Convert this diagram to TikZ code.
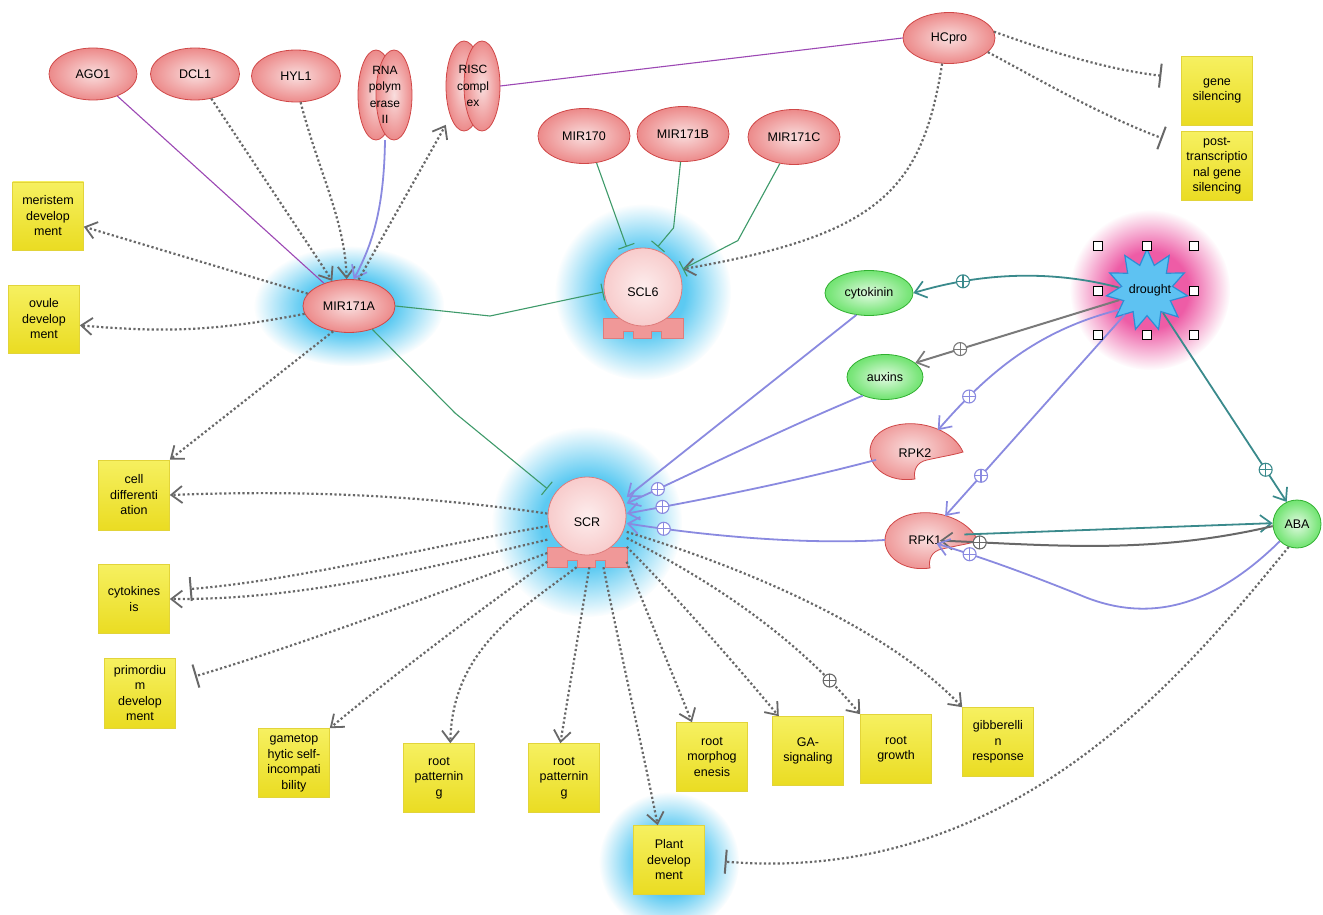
\documentclass[tikz,border=0pt]{standalone}
\usepackage{fontspec}
\setmainfont{Liberation Sans}
\usetikzlibrary{arrows.meta,shapes.geometric,fadings}

\definecolor{redC}{HTML}{F9DEDE}
\definecolor{redM}{HTML}{EE9494}
\definecolor{redE}{HTML}{DE5252}
\definecolor{redB}{HTML}{D04848}
\definecolor{grC}{HTML}{E2FAE2}
\definecolor{grM}{HTML}{7CE67C}
\definecolor{grE}{HTML}{3CD23C}
\definecolor{grB}{HTML}{30B030}
\definecolor{pkC}{HTML}{FDEDED}
\definecolor{pkE}{HTML}{F2AAAA}
\definecolor{baseF}{HTML}{F09898}
\definecolor{baseB}{HTML}{DE7C7C}
\definecolor{yT}{HTML}{F6F060}
\definecolor{yB}{HTML}{EADC22}
\definecolor{yD}{HTML}{E2D43A}
\definecolor{dgray}{HTML}{686868}
\definecolor{lav}{HTML}{8A8AE0}
\definecolor{tealc}{HTML}{3A8A8C}
\definecolor{grnl}{HTML}{3E9A6A}
\definecolor{purp}{HTML}{9C48B4}
\definecolor{sgray}{HTML}{7A7A7A}
\definecolor{glowblue}{HTML}{5CCAF2}
\definecolor{glowpink}{HTML}{EE5CA6}
\definecolor{starF}{HTML}{5EC2F2}
\definecolor{starB}{HTML}{2C8ED6}

\pgfdeclareradialshading{redsh}{\pgfpoint{0bp}{0bp}}{color(0bp)=(redC); color(22bp)=(redM); color(42bp)=(redE); color(50bp)=(redE)}
\pgfdeclareradialshading{grsh}{\pgfpoint{0bp}{0bp}}{color(0bp)=(grC); color(22bp)=(grM); color(42bp)=(grE); color(50bp)=(grE)}
\pgfdeclareradialshading{pksh}{\pgfpoint{0bp}{0bp}}{color(0bp)=(pkC); color(50bp)=(pkE)}
\pgfdeclareradialshading{glowsh}{\pgfpoint{0bp}{0bp}}{color(0bp)=(white); color(12bp)=(white); color(25bp)=(black); color(50bp)=(black)}
\pgfdeclarefading{glowf}{\pgfuseshading{glowsh}}

\tikzset{
 pics/gene/.style={code={
   \filldraw[fill=baseF, draw=baseB, line width=0.8pt] (-40,31) -- (40,31) -- (40,51) -- (18,51) -- (18,44) -- (8,44) -- (8,51) -- (-10,51) -- (-10,44) -- (-20,44) -- (-20,51) -- (-40,51) -- cycle;
   \shadedraw[shading=pksh, draw=baseB, line width=0.8pt] (0,0) circle (39);
 }},
 pics/kinase/.style={code={
   \shadedraw[shading=redsh, draw=redB, line width=0.8pt] (58,0) .. controls (45,-30) and (-10,-38) .. (-30,-15) .. controls (-45,5) and (-25,32) .. (10,27) .. controls (8,18) and (12,10) .. (22,8) .. controls (35,5) and (48,3) .. (58,0) -- cycle;
 }},
 pics/lobe/.style={code={
   \shadedraw[shading=redsh, draw=redB, line width=0.8pt] (-9,0) ellipse (18 and 45);
   \shadedraw[shading=redsh, draw=redB, line width=0.8pt] (9,0) ellipse (18 and 45);
 }},
}

\begin{document}
\begin{tikzpicture}[x=1pt,y=-1pt,
  font=\fontsize{12.5}{15.5}\selectfont,
  redell/.style={ellipse, shade, shading=redsh, draw=redB, line width=0.8pt, inner sep=0pt, minimum width=90pt, minimum height=53pt},
  greell/.style={ellipse, shade, shading=grsh, draw=grB, line width=0.8pt, inner sep=0pt, minimum width=88pt, minimum height=45pt},
  lobetxt/.style={rectangle, inner sep=0pt, minimum width=54pt, minimum height=90pt, align=center, font=\fontsize{12}{16.5}\selectfont},
  ybox/.style={rectangle, top color=yT, bottom color=yB, draw=yD, line width=0.6pt, minimum width=71pt, minimum height=69pt, inner sep=0pt, align=center},
  genetxt/.style={rectangle, inner sep=0pt, minimum width=79pt, minimum height=90pt},
  kintxt/.style={ellipse, inner sep=0pt, minimum width=80pt, minimum height=55pt},
  handle/.style={rectangle, draw=black, fill=white, line width=0.8pt, minimum size=9pt, inner sep=0pt},
  plusn/.style={circle, solid, draw=#1, fill=white, line width=1.1pt, inner sep=0pt, minimum size=13pt,
     path picture={
       \draw[#1, solid, -, shorten >=0pt, shorten <=0pt, line width=1.1pt] (path picture bounding box.north) -- (path picture bounding box.south);
       \draw[#1, solid, -, shorten >=0pt, shorten <=0pt, line width=1.1pt] (path picture bounding box.west) -- (path picture bounding box.east);}},
  dotl/.style={draw=dgray, line width=2.2pt, dash pattern=on 2.2pt off 2.4pt},
  oarr/.style={-{Straight Barb[length=11pt,width=17pt,line width=1.8pt]}},
  tbar/.style={-{Bar[width=24pt,line width=2pt]}, shorten >=20pt},
  grnT/.style={draw=grnl, line width=1.1pt, -{Bar[width=17pt,line width=1.1pt]}},
  lavA/.style={draw=lav, line width=1.8pt, -{Straight Barb[length=11pt,width=17pt,line width=1.7pt]}},
  tealA/.style={draw=tealc, line width=1.8pt, -{Straight Barb[length=11pt,width=17pt,line width=1.7pt]}},
  grayA/.style={draw=sgray, line width=2pt, -{Straight Barb[length=11pt,width=17pt,line width=1.7pt]}},
  purl/.style={draw=purp, line width=1.1pt}
]
\useasboundingbox (0,0) rectangle (1323,915);
\fill[white] (0,0) rectangle (1323,915);

% glows
\fill[glowblue, path fading=glowf] (349,306) ellipse (95 and 60);
\fill[glowblue, path fading=glowf] (643,292) circle (88);
\fill[glowblue, path fading=glowf] (587,522) circle (95);
\fill[glowblue, path fading=glowf] (669,862) circle (70);
\fill[glowpink, path fading=glowf] (1150,290) circle (80);

% shapes
\pic at (385,95) {lobe};
\pic at (473,86) {lobe};
\pic at (643,287) {gene};
\pic at (587,516) {gene};
\pic at (905,452) {kinase};
\pic at (920,541) {kinase};

% nodes
\node[redell, minimum width=88pt, minimum height=52pt] (ago1) at (93,74) {AGO1};
\node[redell, minimum width=89pt, minimum height=52pt] (dcl1) at (195,74) {DCL1};
\node[redell, minimum width=89pt, minimum height=52pt] (hyl1) at (296,76) {HYL1};
\node[lobetxt] (rna) at (385,95) {RNA\\polym\\erase\\II};
\node[lobetxt] (risc) at (473,86) {RISC\\compl\\ex};
\node[redell, minimum width=92pt, minimum height=51pt] (hcpro) at (949,38) {HCpro};
\node[ybox] (gs) at (1217,91) {gene\\silencing};
\node[ybox] (ptgs) at (1217,166) {post-\\transcriptio\\nal gene\\silencing};
\node[redell, minimum width=92pt, minimum height=55pt] (m170) at (584,136) {MIR170};
\node[redell, minimum width=92pt, minimum height=55pt] (m171b) at (683,134) {MIR171B};
\node[redell, minimum width=92pt, minimum height=55pt] (m171c) at (794,137) {MIR171C};
\node[genetxt] (scl6) at (643,292) {SCL6};
\node[redell, minimum width=92pt, minimum height=53pt] (m171a) at (349,306) {MIR171A};
\node[ybox, minimum height=68pt] (mer) at (48,216) {meristem\\develop\\ment};
\node[ybox, minimum height=68pt] (ovu) at (44,319) {ovule\\develop\\ment};
\node[ybox, minimum height=70pt] (cdiff) at (134,495) {cell\\differenti\\ation};
\node[ybox] (cytk) at (134,599) {cytokines\\is};
\node[ybox, minimum height=70pt] (prim) at (140,693) {primordiu\\m\\develop\\ment};
\node[ybox] (game) at (294,763) {gametop\\hytic self-\\incompati\\bility};
\node[ybox] (rp1) at (439,778) {root\\patternin\\g};
\node[ybox] (rp2) at (564,778) {root\\patternin\\g};
\node[ybox] (plant) at (669,860) {Plant\\develop\\ment};
\node[ybox] (rmorph) at (712,757) {root\\morphog\\enesis};
\node[ybox] (ga) at (808,751) {GA-\\signaling};
\node[ybox] (rgrow) at (896,749) {root\\growth};
\node[ybox] (gib) at (998,742) {gibberelli\\n\\response};
\node[genetxt] (scr) at (587,522) {SCR};
\node[greell, minimum width=88pt, minimum height=45pt] (cytokinin) at (869,293) {cytokinin};
\node[greell, minimum width=76pt, minimum height=45pt] (auxins) at (885,377) {auxins};
\node[kintxt] (rpk2) at (915,453) {RPK2};
\node[kintxt] (rpk1) at (925,540) {RPK1};
\node[greell, circle, minimum size=48pt] (aba) at (1297,524) {ABA};
\node[star, star points=11, star point ratio=1.6, minimum size=82pt, inner sep=0pt, fill=starF, draw=starB, line width=1.2pt] (drought) at (1147,290) {};
\node (droughtlbl) at (1150,290) {drought};

% MIR171A region
\draw[purl] (ago1) -- (m171a);
\draw[dotl,oarr] (dcl1) -- (m171a);
\draw[dotl,oarr] (hyl1.-80) .. controls (318,170) and (345,220) .. (m171a.95);
\draw[lavA] (rna.south) .. controls (384,210) and (372,245) .. (m171a.80);
\draw[dotl,oarr] (m171a.70) -- (risc.-125);
\draw[purl] (risc.east) -- (hcpro.west);
\draw[dotl,oarr] (m171a) -- (mer);
\draw[dotl,oarr] (m171a.190) to[bend left=8] (ovu.-10);
\draw[dotl,oarr] (m171a.-122) -- (cdiff.north east);

% HCpro
\draw[dotl,tbar] (hcpro.8) .. controls (1050,52) and (1110,70) .. (gs.160);
\draw[dotl,tbar] (hcpro.-20) .. controls (1040,80) and (1100,115) .. (ptgs.150);
\draw[dotl,oarr] (hcpro.-105) .. controls (922,190) and (880,235) .. (scl6.30);

% SCL6 inhibitors
\draw[grnT] (m170.-65) -- (scl6.110);
\draw[grnT] (m171b.-95) -- ++(-7,66) -- (scl6.72);
\draw[grnT] (m171c.-118) -- ++(-42,77) -- (scl6.30);
\draw[grnT] (m171a.east) -- (490,316) -- (scl6.west);
\draw[grnT] (m171a.-45) -- (455,413) -- (scr.140);

% SCR outgoing
\draw[dotl,oarr] (scr.168) .. controls (420,495) and (300,490) .. (cdiff.east);
\draw[dotl,tbar] (scr.-174) .. controls (420,548) and (300,580) .. (cytk.13);
\draw[dotl,oarr] (scr.-156) .. controls (420,570) and (300,600) .. (cytk.east);
\draw[dotl,tbar] (scr.-142) .. controls (420,600) and (300,645) .. (prim.17);
\draw[dotl,oarr] (scr.-135) .. controls (480,610) and (400,670) .. (game.north east);
\draw[dotl,oarr] (scr.-103) .. controls (520,610) and (452,650) .. (rp1.72);
\draw[dotl,oarr] (scr.-87) -- (rp2.96);
\draw[dotl,oarr] (scr.-70) .. controls (620,650) and (645,760) .. (plant.108);
\draw[dotl,oarr] (scr.-45) -- (rmorph.120);
\draw[dotl,oarr] (scr.-32) .. controls (680,600) and (740,670) .. (ga.130);
\draw[dotl,oarr] (scr.-22) .. controls (700,575) and (790,630) .. (rgrow.north west) node[plusn=dgray, pos=0.86] (p1) {};
\draw[dotl,oarr] (scr.-14) .. controls (720,560) and (880,620) .. (gib.north west);
\draw[dotl,tbar] (aba.-110) .. controls (1180,680) and (1010,885) .. (plant.east);

% into SCR
\draw[lavA] (cytokinin.-120) -- (scr.32);
\draw[lavA] (auxins.-140) .. controls (780,430) and (700,470) .. (scr.25) node[plusn=lav, pos=0.86] (p2) {};
\draw[lavA] (rpk2.190) .. controls (780,485) and (700,500) .. (scr.12) node[plusn=lav, pos=0.84] (p3) {};
\draw[lavA] (rpk1.180) .. controls (800,545) and (700,535) .. (scr.-2) node[plusn=lav, pos=0.84] (p4) {};

% drought
\draw[tealA] (drought.175) .. controls (1060,272) and (990,270) .. (cytokinin.east) node[plusn=tealc, pos=0.78] (p5) {};
\draw[grayA] (drought.200) -- (auxins.25) node[plusn=sgray, pos=0.78] (p6) {};
\draw[lavA] (drought.215) .. controls (1040,330) and (990,370) .. (rpk2.45) node[plusn=lav, pos=0.8] (p7) {};
\draw[lavA] (drought.228) -- (rpk1.50) node[plusn=lav, pos=0.8] (p8) {};
\draw[tealA] (drought.-55) -- (aba.115) node[plusn=tealc, pos=0.83] (p9) {};
\draw[tealA] (rpk1.8) -- (aba.178);
\draw[grayA, draw=dgray, shorten >=15pt] (aba.-175) .. controls (1150,555) and (1050,545) .. (rpk1.center) node[plusn=dgray, pos=0.85] (p10) {};
\draw[lavA, shorten >=12pt] (aba.-135) .. controls (1215,605) and (1150,625) .. (1080,595) .. controls (1030,575) and (990,560) .. (rpk1.center) node[plusn=lav, pos=0.75] (p11) {};

% selection handles
\node[handle] (h1) at (1098,246) {};
\node[handle] (h2) at (1147,246) {};
\node[handle] (h3) at (1194,246) {};
\node[handle] (h4) at (1098,291) {};
\node[handle] (h5) at (1194,291) {};
\node[handle] (h6) at (1098,335) {};
\node[handle] (h7) at (1147,335) {};
\node[handle] (h8) at (1194,335) {};
\end{tikzpicture}
\end{document}
